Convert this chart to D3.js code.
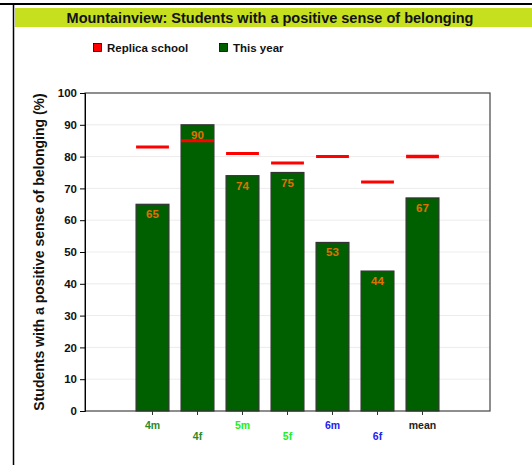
<!DOCTYPE html>
<html>
<head>
<meta charset="utf-8">
<script src="https://cdn.jsdelivr.net/npm/d3@7"></script>
<style>
  body { margin: 0; background: #fff; }
  svg { display: block; font-family: 'Liberation Sans', Arial, sans-serif; }
</style>
</head>
<body>
<div id="chart"></div>
<script>
  'use strict';

  var title = 'Mountainview: Students with a positive sense of belonging';
  var yLabel = 'Students with a positive sense of belonging (%)';
  var categories = ['4m', '4f', '5m', '5f', '6m', '6f', 'mean'];
  var labelColors = ['#2a8a2a', '#2a8a2a', '#22ee22', '#22ee22', '#2222ee', '#2222ee', '#222222'];
  var thisYear = [65, 90, 74, 75, 53, 44, 67];
  var replica = [83, 85, 81, 78, 80, 72, 80];
  var yTicks = [0, 10, 20, 30, 40, 50, 60, 70, 80, 90, 100];
  var legendItems = [
    { name: 'Replica school', color: '#ff0000' },
    { name: 'This year', color: '#006000' }
  ];

  var W = 532, H = 465;
  var margin = { top: 93, right: 42, bottom: 54, left: 85 };
  var width = W - margin.left - margin.right;
  var height = H - margin.top - margin.bottom;

  var svg = d3.select('#chart').append('svg')
    .attr('width', W)
    .attr('height', H);

  // page frame lines
  svg.append('line').attr('x1', 0).attr('x2', W).attr('y1', 4).attr('y2', 4)
    .attr('stroke', '#000').attr('stroke-width', 2);
  svg.append('line').attr('x1', 13.5).attr('x2', 13.5).attr('y1', 4).attr('y2', H)
    .attr('stroke', '#000').attr('stroke-width', 1.5);

  // title bar
  svg.append('rect').attr('x', 15).attr('y', 8).attr('width', W - 15).attr('height', 19)
    .attr('fill', '#c6e020');
  svg.append('text').attr('x', 270).attr('y', 22.5)
    .attr('text-anchor', 'middle')
    .style('font-size', '14.5px').style('font-weight', 'bold').style('fill', '#111')
    .text(title);

  // legend
  var legendX = [93, 219];
  legendItems.forEach(function(d, i) {
    svg.append('rect').attr('x', legendX[i] + 0.5).attr('y', 43.5).attr('width', 8).attr('height', 8)
      .attr('fill', d.color).attr('stroke', '#000').attr('stroke-width', 0.8);
    svg.append('text').attr('x', legendX[i] + 14).attr('y', 51.5)
      .style('font-size', '11.5px').style('font-weight', 'bold').style('fill', '#111')
      .text(d.name);
  });

  var slots = d3.range(categories.length + 2);
  var xScale = d3.scaleBand().domain(slots).range([0, width]).paddingInner(0.27).paddingOuter(0.135);
  var yScale = d3.scaleLinear().domain([0, 100]).range([height, 0]);
  var xOf = function(i) { return xScale(i + 1); };

  var g = svg.append('g').attr('transform', 'translate(' + margin.left + ',' + margin.top + ')');

  // grid lines
  g.selectAll('.grid')
    .data(yTicks.slice(1, -1))
    .enter().append('line')
    .attr('x1', 0).attr('x2', width)
    .attr('y1', function(d) { return yScale(d); })
    .attr('y2', function(d) { return yScale(d); })
    .attr('stroke', '#ececec').attr('stroke-width', 1);

  // frame
  g.append('rect').attr('x', 0).attr('y', 0).attr('width', width).attr('height', height)
    .attr('fill', 'none').attr('stroke', '#444').attr('stroke-width', 1.2);

  // Y axis
  var yAxis = d3.axisLeft(yScale).tickValues(yTicks).tickSize(5).tickPadding(3);
  g.append('g').attr('class', 'y axis').call(yAxis)
    .call(function(s) {
      s.select('.domain').attr('stroke', '#000');
      s.selectAll('.tick line').attr('stroke', '#000');
      s.selectAll('text').style('font-size', '11.5px').style('font-weight', 'bold')
        .style('fill', '#111').style('font-family', 'Liberation Sans, Arial, sans-serif');
    });

  svg.append('text')
    .attr('transform', 'translate(44,' + (margin.top + height / 2) + ') rotate(-90)')
    .attr('text-anchor', 'middle')
    .style('font-size', '14px').style('font-weight', 'bold').style('fill', '#111')
    .text(yLabel);

  // bars
  g.selectAll('.bar')
    .data(thisYear)
    .enter().append('rect')
    .attr('class', 'bar')
    .attr('x', function(d, i) { return xOf(i); })
    .attr('width', xScale.bandwidth())
    .attr('y', function(d) { return yScale(d); })
    .attr('height', function(d) { return height - yScale(d); })
    .attr('fill', '#006000')
    .attr('stroke', '#333').attr('stroke-width', 1.2);

  // value labels
  g.selectAll('.val')
    .data(thisYear)
    .enter().append('text')
    .attr('x', function(d, i) { return xOf(i) + xScale.bandwidth() / 2; })
    .attr('y', function(d) { return yScale(d) + 14; })
    .attr('text-anchor', 'middle')
    .style('font-size', '11.5px').style('font-weight', 'bold').style('fill', '#e07000')
    .text(function(d) { return d; });

  // replica markers
  g.selectAll('.rep')
    .data(replica)
    .enter().append('line')
    .attr('x1', function(d, i) { return xOf(i); })
    .attr('x2', function(d, i) { return xOf(i) + xScale.bandwidth(); })
    .attr('y1', function(d) { return yScale(d); })
    .attr('y2', function(d) { return yScale(d); })
    .attr('stroke', '#ff0000')
    .attr('stroke-width', function(d, i) { return i === replica.length - 1 ? 3.5 : 3; });

  // X ticks and labels
  var xg = g.append('g').attr('transform', 'translate(0,' + height + ')');
  categories.forEach(function(c, i) {
    var cx = xOf(i) + xScale.bandwidth() / 2;
    xg.append('line').attr('x1', cx).attr('x2', cx).attr('y1', 0).attr('y2', 4)
      .attr('stroke', '#333');
    xg.append('text').attr('x', cx).attr('y', i % 2 === 0 ? 17.5 : 29)
      .attr('text-anchor', 'middle')
      .style('font-size', '10.5px').style('font-weight', 'bold')
      .style('fill', labelColors[i])
      .text(c);
  });
</script>
</body>
</html>
